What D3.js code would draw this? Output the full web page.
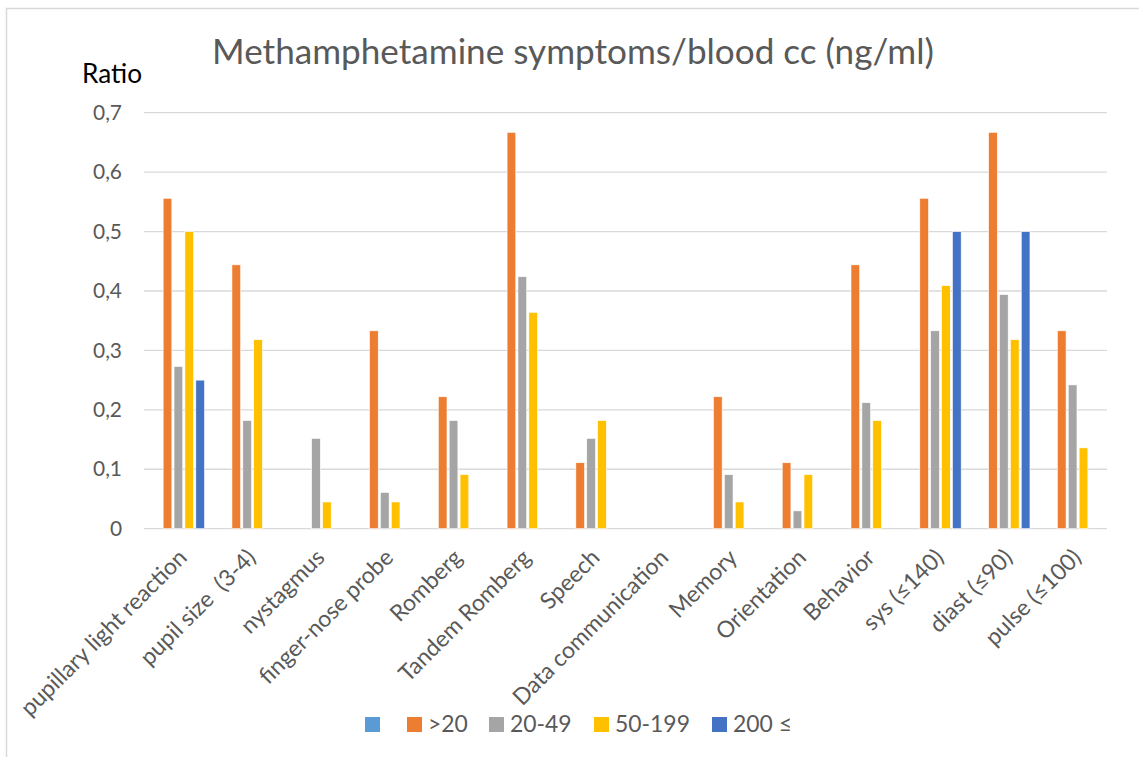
<!DOCTYPE html>
<html>
<head>
<meta charset="utf-8">
<script src="https://cdn.jsdelivr.net/npm/d3@7"></script>
<style>
  body { margin: 0; background: #fff; }
  svg { display: block; font-family: Lato, "Open Sans", sans-serif; }
  text { white-space: pre; }
</style>
</head>
<body>
<div class="chart"></div>
<script>
// chart data
const categories = ['pupillary light reaction', 'pupil size  (3-4)', 'nystagmus', 'finger-nose probe',
  'Romberg', 'Tandem Romberg', 'Speech', 'Data communication', 'Memory', 'Orientation',
  'Behavior', 'sys (≤140)', 'diast (≤90)', 'pulse (≤100)']
const seriesNames = ['', '>20', '20-49', '50-199', '200 ≤']
const seriesColors = ['#5B9BD5', '#ED7D31', '#A5A5A5', '#FFC000', '#4472C4']
const valuesBlank = [0, 0, 0, 0, 0, 0, 0, 0, 0, 0, 0, 0, 0, 0]
const values20 = [0.556, 0.444, 0, 0.333, 0.222, 0.667, 0.111, 0, 0.222, 0.111, 0.444, 0.556, 0.667, 0.333]
const values2049 = [0.273, 0.182, 0.152, 0.061, 0.182, 0.424, 0.152, 0, 0.091, 0.030, 0.212, 0.333, 0.394, 0.242]
const values50199 = [0.5, 0.318, 0.045, 0.045, 0.091, 0.364, 0.182, 0, 0.045, 0.091, 0.182, 0.409, 0.318, 0.136]
const values200 = [0.25, 0, 0, 0, 0, 0, 0, 0, 0, 0, 0, 0.5, 0.5, 0]
const yTicks = [0, 0.1, 0.2, 0.3, 0.4, 0.5, 0.6, 0.7]

const allValues = [valuesBlank, values20, values2049, values50199, values200]
const rows = categories.map((c, i) => ({
  cat: c,
  vals: seriesNames.map((s, j) => ({ key: j, value: allValues[j][i] }))
}))

const width = 1139, height = 757
const plot = { left: 144, right: 1107, top: 112.7, bottom: 528.7 }

const svg = d3.select('.chart')
  .append('svg')
  .attr('width', width)
  .attr('height', height)

// chart frame
svg.append('rect')
  .attr('x', 6.5).attr('y', 8.5)
  .attr('width', 1200).attr('height', 800)
  .attr('fill', 'none')
  .attr('stroke', '#D9D9D9')
  .attr('stroke-width', 1.5)

// size a text so it fills a given width
function fitSize(text, target) {
  const t = svg.append('text').attr('font-size', 100).text(text)
  const w = t.node().getComputedTextLength()
  t.remove()
  return 100 * target / w
}

const y = d3.scaleLinear()
  .domain([0, 0.7])
  .range([plot.bottom, plot.top])

const x0 = d3.scaleBand()
  .domain(categories)
  .range([plot.left, plot.right])
  .paddingInner(0.24)
  .paddingOuter(0.12)

const x1 = d3.scaleBand()
  .domain(d3.range(seriesNames.length))
  .range([0, x0.bandwidth()])
  .paddingInner(0.2)

// gridlines
svg.append('g')
  .selectAll('line')
  .data(yTicks)
  .enter()
  .append('line')
  .attr('x1', plot.left)
  .attr('x2', plot.right)
  .attr('y1', d => y(d))
  .attr('y2', d => y(d))
  .attr('stroke', '#D9D9D9')
  .attr('stroke-width', 1.3)

// y axis labels
const tickSize = fitSize('0,7', 29)
const yAxis = d3.axisLeft(y)
  .tickValues(yTicks)
  .tickSize(0)
  .tickPadding(22)
  .tickFormat(d => d === 0 ? '0' : d3.format('.1f')(d).replace('.', ','))

const yAxisGroup = svg.append('g')
  .attr('transform', `translate(${plot.left}, 0)`)
  .call(yAxis)
yAxisGroup.select('.domain').remove()
yAxisGroup.selectAll('text')
  .attr('font-size', tickSize)
  .attr('font-family', 'Lato, sans-serif')
  .attr('fill', '#595959')

// bars
const groups = svg.append('g')
  .selectAll('g')
  .data(rows)
  .enter()
  .append('g')
  .attr('transform', d => `translate(${x0(d.cat)}, 0)`)

groups.selectAll('rect')
  .data(d => d.vals)
  .enter()
  .append('rect')
  .attr('x', d => x1(d.key))
  .attr('width', x1.bandwidth())
  .attr('y', d => y(d.value))
  .attr('height', d => y(0) - y(d.value))
  .attr('fill', d => seriesColors[d.key])
  .attr('stroke', '#fff')
  .attr('stroke-width', 0.6)

// x axis labels, rotated
const catSize = fitSize('pupillary light reaction', 224)
svg.append('g')
  .selectAll('text')
  .data(categories)
  .enter()
  .append('text')
  .attr('transform', d => `translate(${x0(d) + x0.bandwidth() / 2 + 10}, 559) rotate(-45)`)
  .attr('text-anchor', 'end')
  .attr('font-size', catSize)
  .attr('fill', '#595959')
  .text(d => d)

// title
const titleSize = fitSize('Methamphetamine symptoms/blood cc (ng/ml)', 722)
svg.append('text')
  .attr('x', 573)
  .attr('y', 64)
  .attr('text-anchor', 'middle')
  .attr('font-size', titleSize)
  .attr('fill', '#595959')
  .text('Methamphetamine symptoms/blood cc (ng/ml)')

// axis title
svg.append('text')
  .attr('x', 82)
  .attr('y', 83)
  .attr('font-size', fitSize('Ratio', 60))
  .attr('fill', '#000')
  .text('Ratio')

// legend
const legendSize = fitSize('50-199', 75)
const legendX = [365, 407, 489, 594, 712]
const legend = svg.append('g')
  .selectAll('g')
  .data(seriesNames)
  .enter()
  .append('g')
  .attr('transform', (d, i) => `translate(${legendX[i]}, 717)`)

legend.append('rect')
  .attr('width', 15)
  .attr('height', 15)
  .attr('fill', (d, i) => seriesColors[i])

legend.append('text')
  .attr('x', 21)
  .attr('y', 14.5)
  .attr('font-size', legendSize)
  .attr('fill', '#595959')
  .text(d => d)
</script>
</body>
</html>
